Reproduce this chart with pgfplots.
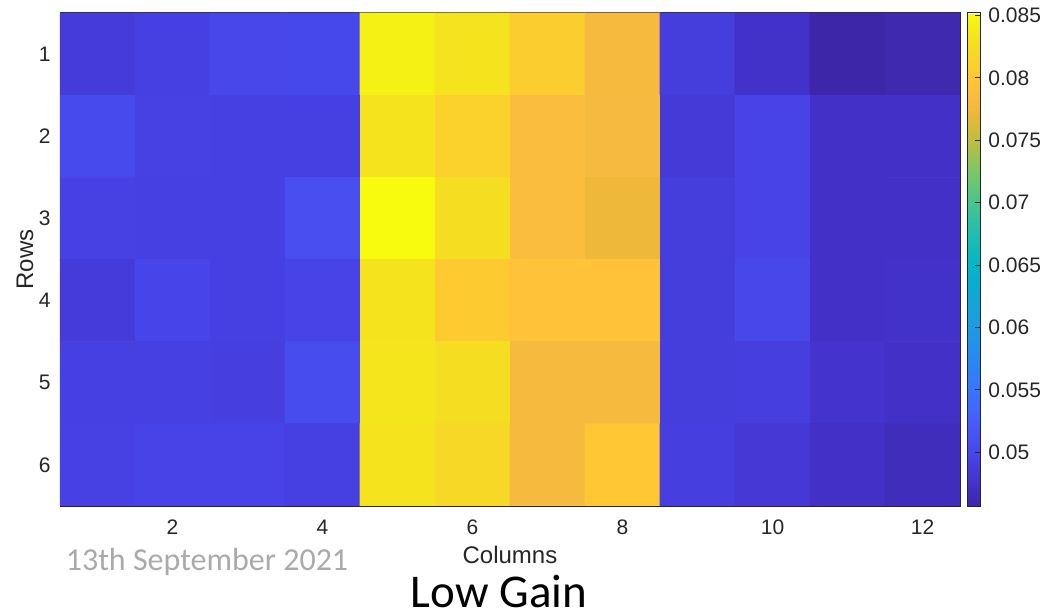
\documentclass[border=0pt]{standalone}
\usepackage{pgfplots}
\pgfplotsset{compat=1.18}
\usepackage{fontspec}
\setmainfont{Liberation Sans}
\newfontfamily\carlito{Carlito}
\definecolor{axgray}{RGB}{38,38,38}
\definecolor{anngray}{RGB}{170,170,170}
\pgfplotsset{colormap={parula}{
 rgb255(0pt)=(62,38,168) rgb255(5pt)=(68,51,205) rgb255(10pt)=(71,67,231) rgb255(15pt)=(72,85,246)
 rgb255(20pt)=(67,103,253) rgb255(25pt)=(52,122,253) rgb255(30pt)=(40,138,240) rgb255(35pt)=(30,152,228)
 rgb255(40pt)=(22,163,218) rgb255(45pt)=(8,173,208) rgb255(50pt)=(5,183,195) rgb255(55pt)=(30,190,175)
 rgb255(60pt)=(60,195,150) rgb255(65pt)=(100,198,120) rgb255(70pt)=(145,196,90) rgb255(75pt)=(195,189,58)
 rgb255(79.4pt)=(235,184,57) rgb255(81pt)=(243,185,62) rgb255(82.5pt)=(248,186,64) rgb255(84pt)=(253,190,60)
 rgb255(85.7pt)=(255,195,55) rgb255(87.3pt)=(254,200,50) rgb255(88.9pt)=(252,206,46) rgb255(90.5pt)=(250,211,42)
 rgb255(92pt)=(247,216,38) rgb255(93.7pt)=(245,222,33) rgb255(95.2pt)=(245,228,29) rgb255(96.8pt)=(245,235,24)
 rgb255(98.4pt)=(246,243,19) rgb255(100pt)=(249,251,14)}}
\begin{document}
\begin{tikzpicture}
\begin{axis}[
  name=ax,
  at={(0,0)}, anchor=south west,
  width=450bp, height=246.5bp, scale only axis,
  xmin=0.5, xmax=12.5, ymin=-6.5, ymax=-0.5,
  enlargelimits=false,
  colormap name=parula,
  point meta min=0.0457, point meta max=0.0852,
  xtick={2,4,6,8,10,12},
  ytick={-1,-2,-3,-4,-5,-6},
  yticklabels={1,2,3,4,5,6},
  xtick pos=both, ytick pos=both,
  tick align=inside,
  major tick length=4.5bp,
  axis line style={draw=axgray, line width=0.5bp},
  every tick/.style={draw=axgray, line width=0.5bp},
  /pgf/number format/assume math mode=true,
  tick label style={font=\fontsize{10.5bp}{12bp}\selectfont, text=axgray},
  xticklabel style={anchor=base, inner sep=0pt, yshift=-14bp},
  yticklabel style={anchor=east, inner sep=0pt, xshift=-4.5bp},
  label style={font=\fontsize{12bp}{14bp}\selectfont, text=axgray},
  xlabel={Columns},
  xlabel style={at={(axis description cs:0.5,-0.1176)}, anchor=base, inner sep=0pt},
  ylabel={Rows},
  ylabel style={at={(axis description cs:-0.0389,0.5)}, anchor=center, inner sep=0pt},
  colorbar,
  colorbar style={
    at={(parent axis.north east)}, anchor=north west, xshift=-5bp,
    width=6.5bp,
    xtick=\empty,
    ytick={0.05,0.055,0.06,0.065,0.07,0.075,0.08,0.085},
    yticklabels={0.05,0.055,0.06,0.065,0.07,0.075,0.08,0.085},
    ytick pos=right, yticklabel pos=right,
    tick align=inside, major tick length=2.5bp,
    axis line style={draw=axgray, line width=0.5bp},
    every tick/.style={draw=axgray, line width=0.5bp},
    yticklabel style={anchor=west, inner sep=0pt, xshift=4bp,
      font=\fontsize{10.5bp}{12bp}\selectfont, text=axgray},
  },
]
\addplot[matrix plot*, mesh/cols=12, mesh/rows=6, point meta=explicit]
 table[meta=c]{
x y c
1 -1 0.04866
2 -1 0.04926
3 -1 0.05005
4 -1 0.05024
5 -1 0.08441
6 -1 0.08323
7 -1 0.08066
8 -1 0.07809
9 -1 0.04886
10 -1 0.04748
11 -1 0.04570
12 -1 0.04610
1 -2 0.05044
2 -2 0.04945
3 -2 0.04926
4 -2 0.04926
5 -2 0.08323
6 -2 0.08125
7 -2 0.07868
8 -2 0.07817
9 -2 0.04847
10 -2 0.04965
11 -2 0.04728
12 -2 0.04728
1 -3 0.04945
2 -3 0.04926
3 -3 0.04926
4 -3 0.05084
5 -3 0.08520
6 -3 0.08271
7 -3 0.07868
8 -3 0.07730
9 -3 0.04886
10 -3 0.04965
11 -3 0.04728
12 -3 0.04728
1 -4 0.04866
2 -4 0.04985
3 -4 0.04926
4 -4 0.04965
5 -4 0.08323
6 -4 0.08046
7 -4 0.07947
8 -4 0.07947
9 -4 0.04886
10 -4 0.05005
11 -4 0.04728
12 -4 0.04748
1 -5 0.04926
2 -5 0.04926
3 -5 0.04906
4 -5 0.05064
5 -5 0.08342
6 -5 0.08271
7 -5 0.07809
8 -5 0.07809
9 -5 0.04886
10 -5 0.04906
11 -5 0.04768
12 -5 0.04728
1 -6 0.04945
2 -6 0.04965
3 -6 0.04965
4 -6 0.04926
5 -6 0.08323
6 -6 0.08204
7 -6 0.07809
8 -6 0.08007
9 -6 0.04906
10 -6 0.04827
11 -6 0.04728
12 -6 0.04669
};
\end{axis}
\node[anchor=base, inner sep=0pt, text=anngray, font=\carlito\fontsize{16bp}{19bp}\selectfont] at (73.5bp,-32bp) {13th September 2021};
\node[anchor=base, inner sep=0pt, text=black, font=\carlito\fontsize{23.5bp}{28bp}\selectfont] at (219.5bp,-50.5bp) {Low Gain};
\pgfresetboundingbox
\path (-30bp,-53bp) rectangle (491.5bp,253bp);
\end{tikzpicture}
\end{document}
